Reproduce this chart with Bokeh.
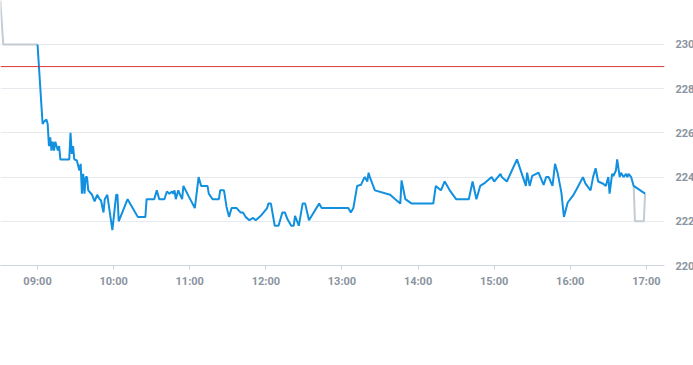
from bokeh.plotting import figure
from bokeh.models import Range1d, FixedTicker, Span, ColumnDataSource
from bokeh.embed import file_html
from bokeh.resources import INLINE

# ---- data ----
blue_times = ["09:00", "09:04", "09:05", "09:07", "09:08", "09:09", "09:10", "09:11", "09:12", "09:13",
              "09:14", "09:16", "09:17", "09:18", "09:25", "09:26", "09:27", "09:28", "09:29", "09:31",
              "09:33", "09:34", "09:35", "09:36", "09:37", "09:38", "09:39", "09:40", "09:43", "09:45",
              "09:47", "09:49", "09:50", "09:52", "09:53", "09:55", "09:59", "10:02", "10:03", "10:04",
              "10:11", "10:15", "10:19", "10:25", "10:26", "10:32", "10:34", "10:36", "10:40", "10:42",
              "10:44", "10:46", "10:47", "10:48", "10:49", "10:51", "10:52", "10:54", "10:55", "10:59",
              "11:04", "11:07", "11:09", "11:14", "11:15", "11:18", "11:23", "11:24", "11:27", "11:29",
              "11:31", "11:33", "11:37", "11:40", "11:42", "11:44", "11:47", "11:50", "11:52", "11:56",
              "12:01", "12:02", "12:04", "12:07", "12:10", "12:13", "12:15", "12:17", "12:20", "12:22",
              "12:23", "12:26", "12:29", "12:31", "12:34", "12:42", "12:44", "13:05", "13:07", "13:09",
              "13:12", "13:15", "13:17", "13:18", "13:20", "13:21", "13:22", "13:26", "13:38", "13:42",
              "13:46", "13:47", "13:50", "13:55", "14:12", "14:14", "14:18", "14:21", "14:25", "14:30",
              "14:40", "14:43", "14:46", "14:49", "14:53", "14:58", "15:00", "15:05", "15:06", "15:10",
              "15:18", "15:25", "15:26", "15:28", "15:30", "15:35", "15:39", "15:41", "15:43", "15:46",
              "15:48", "15:50", "15:52", "15:53", "15:55", "15:58", "16:02", "16:05", "16:10", "16:12",
              "16:16", "16:18", "16:20", "16:22", "16:26", "16:28", "16:30", "16:31", "16:33", "16:34",
              "16:36", "16:37", "16:39", "16:40", "16:42", "16:44", "16:45", "16:46", "16:48", "16:50",
              "16:59"]
blue_values = [230.0, 226.4, 226.5, 226.6, 226.4, 225.4, 225.8, 225.2, 225.6, 225.2,
               225.6, 225.2, 225.4, 224.8, 224.8, 226.0, 225.05, 225.4, 224.8, 224.75,
               224.3, 224.6, 223.25, 224.15, 223.25, 224.0, 224.0, 223.4, 223.2, 222.9,
               223.2, 223.0, 222.95, 222.4, 223.0, 223.2, 221.6, 223.2, 223.2, 222.0,
               223.0, 222.6, 222.2, 222.2, 223.0, 223.0, 223.4, 223.0, 223.0, 223.35,
               223.25, 223.35, 223.25, 223.4, 223.0, 223.4, 223.25, 223.0, 223.6, 223.15,
               222.6, 224.0, 223.6, 223.6, 223.25, 223.0, 223.0, 223.4, 223.4, 222.65,
               222.2, 222.6, 222.6, 222.4, 222.4, 222.2, 222.05, 222.15, 222.05, 222.25,
               222.6, 222.8, 222.8, 221.8, 221.8, 222.4, 222.4, 222.1, 221.8, 221.8,
               222.25, 221.8, 222.8, 222.8, 222.05, 222.8, 222.6, 222.6, 222.4, 222.6,
               223.6, 223.65, 223.9, 224.0, 223.8, 224.2, 224.0, 223.4, 223.2, 223.0,
               222.8, 223.85, 223.0, 222.8, 222.8, 223.6, 223.4, 223.8, 223.4, 223.0,
               223.0, 223.8, 223.0, 223.6, 223.75, 224.0, 223.8, 224.15, 224.0, 223.8,
               224.8, 223.6, 224.2, 223.6, 224.05, 224.2, 223.65, 224.0, 224.0, 223.6,
               224.6, 224.2, 223.6, 223.3, 222.2, 222.85, 223.15, 223.45, 224.0, 223.7,
               223.4, 224.0, 224.4, 223.8, 223.7, 223.6, 224.0, 223.25, 224.15, 224.05,
               224.3, 224.8, 224.0, 224.2, 224.0, 224.15, 224.0, 224.15, 224.0, 223.6,
               223.25]

gray_times = ["08:30", "08:33", "09:00", None, "16:50", "16:51", "16:58", "16:59"]
gray_values = [232.5, 230.0, 230.0, None, 223.6, 222.0, 222.0, 223.25]

reference_level = 229.0

hour_ticks = ["09:00", "10:00", "11:00", "12:00", "13:00", "14:00", "15:00", "16:00", "17:00"]
price_ticks = [220, 222, 224, 226, 228, 230]


def to_min(s):
    if s is None:
        return float("nan")
    h, m = s.split(":")
    return int(h) * 60 + int(m)


blue_src = ColumnDataSource(dict(t=[to_min(s) for s in blue_times], v=blue_values))
gray_src = ColumnDataSource(dict(t=[to_min(s) for s in gray_times],
                                 v=[float("nan") if v is None else v for v in gray_values]))

p = figure(frame_width=664, frame_height=265,
           x_range=Range1d(510.8, 1034.3), y_range=Range1d(220, 231.99),
           output_backend="svg", toolbar_location=None,
           y_axis_location="right",
           min_border_left=0, min_border_top=0, min_border_right=29, min_border_bottom=45,
           outline_line_color=None, background_fill_color="white", border_fill_color="white")

p.line("t", "v", source=gray_src, line_color="#c3cbd3", line_width=2)
p.line("t", "v", source=blue_src, line_color="#1190df", line_width=2)

p.add_layout(Span(location=reference_level, dimension="width", line_color="#d9393a", line_width=1))

# x axis
tick_mins = [to_min(s) for s in hour_ticks]
p.xaxis.ticker = FixedTicker(ticks=tick_mins)
p.xaxis.major_label_overrides = {m: s for m, s in zip(tick_mins, hour_ticks)}
p.xaxis.axis_line_color = "#ccd6e0"
p.xaxis.major_tick_line_color = "#ccd6e0"
p.xaxis.major_tick_out = 4
p.xaxis.major_tick_in = 0
p.xaxis.minor_tick_line_color = None
p.xaxis.major_label_text_color = "#8a94a0"
p.xaxis.major_label_text_font = "Roboto"
p.xaxis.major_label_text_font_style = "bold"
p.xaxis.major_label_text_font_size = "11px"
p.xaxis.major_label_standoff = 5
p.xgrid.grid_line_color = None

# y axis
p.yaxis.ticker = FixedTicker(ticks=price_ticks)
p.yaxis.axis_line_color = None
p.yaxis.major_tick_line_color = None
p.yaxis.major_tick_out = 0
p.yaxis.major_tick_in = 0
p.yaxis.minor_tick_line_color = None
p.yaxis.major_label_text_color = "#8a94a0"
p.yaxis.major_label_text_font = "Roboto"
p.yaxis.major_label_text_font_style = "bold"
p.yaxis.major_label_text_font_size = "11px"
p.yaxis.major_label_standoff = 11
p.ygrid.ticker = FixedTicker(ticks=price_ticks)
p.ygrid.grid_line_color = "#e6e9ed"
p.ygrid.grid_line_width = 1

open("out.html", "w").write(file_html(p, INLINE))
